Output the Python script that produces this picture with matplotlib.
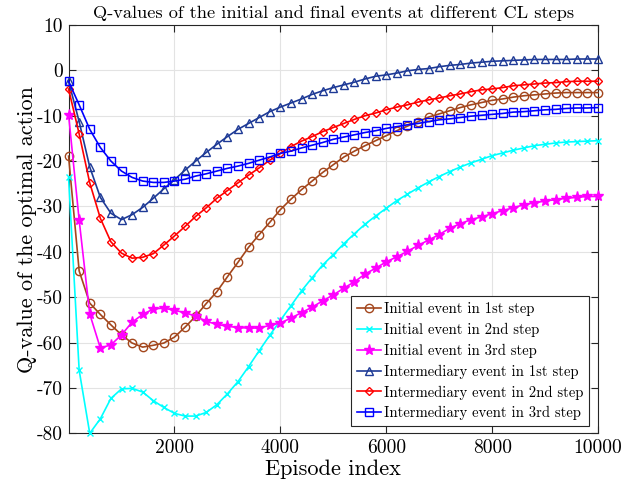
import numpy as np
import matplotlib
matplotlib.use("Agg")
import matplotlib.pyplot as plt

plt.rcParams['font.family'] = 'serif'
plt.rcParams['font.serif'] = ['cmr10']
plt.rcParams['mathtext.fontset'] = 'cm'
plt.rcParams['axes.unicode_minus'] = False

episodes = np.arange(0, 10001, 200)

init_1st = [-18.9, -44.2, -51.3, -53.8, -56.1, -58.3, -60.1, -61.0, -60.6, -60.1,
            -58.8, -56.6, -54.2, -51.4, -48.8, -45.5, -42.3, -39.0, -36.2, -33.5,
            -30.7, -28.4, -26.3, -24.4, -22.5, -20.8, -19.1, -17.8, -16.6, -15.5,
            -14.4, -13.3, -12.3, -11.3, -10.3, -9.6, -8.9, -8.2, -7.6, -7.1,
            -6.6, -6.3, -5.9, -5.6, -5.4, -5.2, -5.0, -4.9, -4.9, -4.9, -4.9]
init_2nd = [-23.6, -66.1, -80.0, -76.8, -72.3, -70.2, -70.1, -70.9, -72.8, -74.3,
            -75.6, -76.2, -76.2, -75.4, -73.7, -71.3, -68.6, -65.3, -61.8, -58.4,
            -55.1, -51.9, -48.6, -45.7, -42.9, -40.6, -38.2, -36.0, -33.9, -32.1,
            -30.4, -28.7, -27.3, -25.9, -24.6, -23.4, -22.3, -21.3, -20.4, -19.6,
            -18.8, -18.2, -17.6, -17.1, -16.6, -16.3, -16.0, -15.8, -15.7, -15.6, -15.5]
init_3rd = [-9.8, -33.0, -53.7, -61.2, -60.5, -58.3, -55.5, -53.8, -52.6, -52.4,
            -52.9, -53.4, -54.2, -55.3, -56.0, -56.4, -56.7, -56.8, -56.8, -56.2,
            -55.7, -54.6, -53.4, -52.2, -50.8, -49.5, -48.0, -46.6, -44.9, -43.6,
            -42.2, -41.1, -39.9, -38.6, -37.4, -36.2, -34.8, -33.8, -32.9, -32.3,
            -31.6, -30.9, -30.3, -29.6, -29.2, -28.8, -28.5, -28.2, -28.0, -27.8, -27.8]
inter_1st = [-2.4, -11.3, -21.3, -28.0, -31.5, -32.9, -31.8, -30.2, -28.2, -26.1,
             -24.1, -22.0, -20.0, -18.1, -16.3, -14.6, -13.0, -11.7, -10.4, -9.1,
             -8.1, -7.2, -6.3, -5.3, -4.5, -3.8, -3.2, -2.6, -1.9, -1.3,
             -1.0, -0.6, -0.1, 0.2, 0.4, 0.8, 1.1, 1.3, 1.6, 1.8,
             2.0, 2.1, 2.2, 2.3, 2.4, 2.4, 2.4, 2.4, 2.5, 2.5, 2.5]
inter_2nd = [-4.1, -14.0, -24.8, -32.6, -37.8, -40.3, -41.4, -41.2, -40.4, -38.5,
             -36.5, -34.4, -32.2, -30.3, -28.2, -26.5, -24.8, -23.1, -21.5, -19.8,
             -18.3, -16.8, -15.6, -14.6, -13.5, -12.6, -11.7, -10.8, -10.0, -9.4,
             -8.7, -8.1, -7.6, -7.0, -6.5, -6.1, -5.6, -5.2, -4.7, -4.3,
             -4.1, -3.8, -3.4, -3.2, -3.0, -2.8, -2.7, -2.5, -2.4, -2.4, -2.4]
inter_3rd = [-2.4, -7.6, -13.0, -17.0, -20.0, -22.2, -23.6, -24.4, -24.7, -24.7,
             -24.4, -24.0, -23.3, -22.8, -22.2, -21.6, -21.1, -20.5, -19.8, -19.1,
             -18.3, -17.8, -17.1, -16.5, -15.9, -15.2, -14.7, -14.2, -13.7, -13.3,
             -12.8, -12.4, -12.0, -11.7, -11.3, -10.9, -10.7, -10.4, -10.1, -9.9,
             -9.7, -9.5, -9.2, -9.1, -8.9, -8.7, -8.6, -8.4, -8.3, -8.3, -8.2]

labels = ["Initial event in 1st step", "Initial event in 2nd step", "Initial event in 3rd step",
          "Intermediary event in 1st step", "Intermediary event in 2nd step",
          "Intermediary event in 3rd step"]
series = [init_1st, init_2nd, init_3rd, inter_1st, inter_2nd, inter_3rd]
colors = ['#A3461C', '#00FFFF', '#FF00FF', '#1E3A96', '#FF0000', '#0000FF']
markers = ['o', 'x', '*', '^', 'D', 's']
msizes = [6, 4.5, 8, 6, 4.5, 5.5]

fig = plt.figure(figsize=(6.21, 4.86), dpi=100)
ax = fig.add_axes([0.1105, 0.1084, 0.8525, 0.8402])

for s, lab, c, m, ms in zip(series, labels, colors, markers, msizes):
    fill = c if m == '*' else 'none'
    ax.plot(episodes, s, color=c, marker=m, ms=ms, mfc=fill, mec=c, mew=1.0,
            lw=1.2, label=lab, clip_on=False, zorder=3)

ax.set_xlim(1, 10000)
ax.set_ylim(-80, 10)
ax.set_xticks([2000, 4000, 6000, 8000, 10000])
ax.set_yticks(np.arange(-80, 11, 10))
ax.grid(True, color='#e3e3e3', lw=0.8)
ax.set_axisbelow(True)
ax.tick_params(direction='in', top=True, right=True, labelsize=14, length=5,
               color='#262626', pad=4)
for sp in ax.spines.values():
    sp.set_color('#262626')
    sp.set_linewidth(0.8)

ax.set_title("Q-values of the initial and final events at different CL steps",
             fontsize=13.2, pad=5)
ax.set_xlabel("Episode index", fontsize=16, labelpad=2)
ax.set_ylabel("Q-value of the optimal action", fontsize=16, labelpad=0)

leg = ax.legend(loc='lower right', bbox_to_anchor=(0.983, 0.017), fontsize=10.6,
                fancybox=False, framealpha=1, edgecolor='#262626',
                handlelength=1.6, handletextpad=0.2, borderpad=0.4,
                labelspacing=0.45, borderaxespad=0)
leg.get_frame().set_linewidth(0.8)

fig.savefig("out.png", dpi=100)
